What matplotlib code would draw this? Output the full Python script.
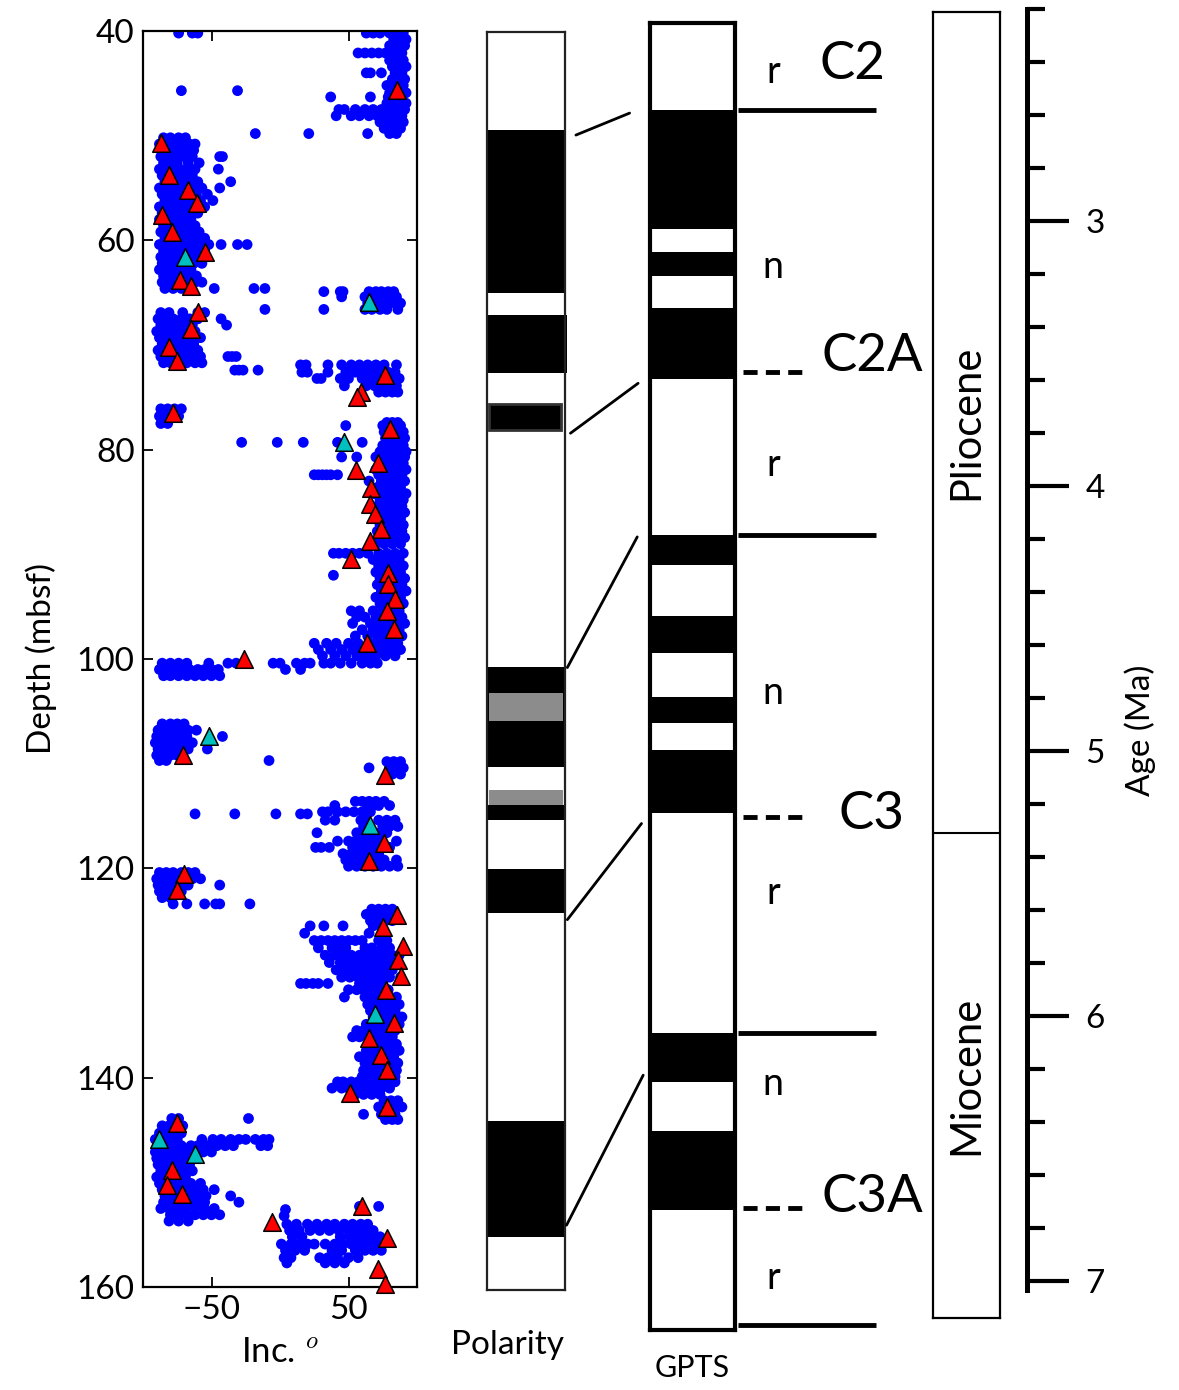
import matplotlib.pyplot as plt
from matplotlib.patches import ConnectionPatch
from matplotlib.ticker import MultipleLocator

plt.rcParams['font.family'] = ['Lato', 'DejaVu Sans']
plt.rcParams['mathtext.fontset'] = 'cm'

# ---- inclination data: (depth in mbsf, [inclinations]) ----
blue_rows = [
    (40.2, [63, 68, 73, 80, 85, 90, -74, -64, -60]),
    (40.8, [83, 88, 92]),
    (41.4, [80, 86, 91]),
    (42.1, [57, 62, 67, 72, 77, 83, 89]),
    (42.8, [80, 85, 90]),
    (43.4, [82, 88, 92]),
    (44.0, [63, 66, 74, 84, 89]),
    (44.6, [82, 87, 91]),
    (45.2, [78, 84, 90]),
    (45.7, [-72, -31]),
    (45.9, [80, 86, 92]),
    (46.3, [37, 66, 79, 85]),
    (46.9, [78, 83, 88, 92]),
    (47.5, [43, 47, 55, 62, 68, 74, 80, 86, 91]),
    (48.1, [41, 52, 58, 65, 71, 77, 83, 89]),
    (48.7, [73, 79, 85, 90]),
    (49.3, [76, 82, 88]),
    (49.8, [-18, 21, 64, 80, 85]),
    (50.2, [-85, -80, -74, -69]),
    (50.8, [-88, -83, -77, -72, -66, -62]),
    (51.4, [-84, -79, -74, -68, -63]),
    (52.0, [-87, -81, -76, -70, -64, -42, -44]),
    (52.6, [-85, -80, -75, -67, -59]),
    (53.2, [-88, -83, -78, -73, -68, -62, -45]),
    (53.8, [-86, -80, -75, -70, -64]),
    (54.4, [-84, -79, -73, -66, -60, -36]),
    (55.0, [-88, -83, -77, -70, -63, -57, -44]),
    (55.6, [-86, -80, -74, -68, -61, -53]),
    (56.2, [-84, -78, -72, -65, -58, -49]),
    (56.8, [-88, -82, -76, -70, -63, -55]),
    (57.4, [-86, -80, -74, -67, -60]),
    (58.0, [-88, -83, -77, -71, -65]),
    (58.6, [-85, -80, -74, -68, -62]),
    (59.2, [-87, -82, -77, -71, -65, -59]),
    (59.8, [-84, -79, -73, -67, -61, -55]),
    (60.4, [-88, -82, -76, -70, -64, -58, -52, -43, -31, -24]),
    (61.0, [-85, -80, -74, -67, -61, -55]),
    (61.6, [-87, -82, -77, -72, -65, -59]),
    (62.2, [-86, -80, -75, -69, -63, -57]),
    (62.8, [-88, -83, -77, -71, -65]),
    (63.4, [-85, -79, -73, -67, -61]),
    (64.0, [-86, -81, -75, -69, -62, -57]),
    (64.6, [-84, -78, -72, -48, -19, -11]),
    (64.9, [32, 44, 46, 65, 70, 74, 79, 83]),
    (65.4, [45, 62, 67, 72, 77, 81, 85]),
    (66.0, [64, 70, 76, 80, 84, 88]),
    (66.6, [-11, 32, 62, 67, 73, 78, 86]),
    (66.9, [-87, -81, -71, -60, -55]),
    (67.5, [-89, -84, -78, -72, -66, -60, -43]),
    (68.1, [-87, -82, -76, -70, -64, -39]),
    (68.7, [-90, -85, -80, -74, -68, -62]),
    (69.3, [-88, -83, -77, -71, -65, -58]),
    (69.9, [-86, -81, -75, -69, -63]),
    (70.5, [-89, -84, -78, -72, -66, -60]),
    (71.1, [-87, -82, -76, -70, -64, -58, -38, -35, -32]),
    (71.7, [-85, -80, -74, -68, -62, -57]),
    (72.4, [-33, -30, -27, -16]),
    (71.9, [15, 19, 35, 45, 52, 58, 64, 70, 76, 85]),
    (72.6, [16, 20, 35, 48, 55, 62, 68, 73, 79, 84]),
    (73.2, [27, 30, 44, 50, 60, 66, 72, 78, 83, 87]),
    (73.9, [47, 63, 69, 75, 80, 85]),
    (74.5, [72, 77, 82, 86]),
    (76.1, [-87, -82, -77, -72]),
    (76.8, [-88, -83, -78, -74]),
    (77.5, [-87, -82]),
    (77.4, [78, 82, 86]),
    (77.7, [48, 75, 80, 84, 88]),
    (78.3, [76, 81, 86, 90]),
    (78.9, [77, 82, 87, 91]),
    (79.3, [-28, -2, 17, 42, 60]),
    (79.6, [75, 80, 85, 90]),
    (80.2, [73, 78, 83, 88, 92]),
    (80.7, [45, 56, 70, 76, 82, 87, 91]),
    (81.3, [74, 80, 85, 90]),
    (81.9, [70, 77, 83, 88, 92]),
    (82.4, [25, 28, 31, 34, 37, 42, 72, 78, 84, 89]),
    (83.0, [65, 74, 80, 86, 91]),
    (83.6, [71, 77, 83, 88]),
    (84.2, [69, 75, 81, 87, 92]),
    (84.8, [73, 79, 85, 90]),
    (85.4, [71, 77, 83, 89]),
    (86.0, [74, 80, 86, 91]),
    (86.6, [70, 76, 82, 88]),
    (87.2, [73, 79, 85, 90]),
    (87.8, [71, 77, 83, 89]),
    (88.4, [75, 81, 86, 91]),
    (89.0, [70, 76, 82, 88]),
    (89.9, [39, 43, 48, 53, 58, 64, 72, 78, 84, 90]),
    (90.5, [68, 75, 81, 87]),
    (91.1, [72, 78, 84, 90]),
    (91.7, [70, 76, 82, 88]),
    (92.0, [39]),
    (92.3, [73, 79, 85, 91]),
    (92.9, [71, 77, 83, 89]),
    (93.5, [74, 80, 86, 92]),
    (94.1, [70, 76, 82, 88]),
    (94.7, [73, 79, 85, 90]),
    (95.4, [52, 58, 68, 75, 81, 87]),
    (96.0, [56, 62, 70, 77, 83, 89]),
    (96.6, [53, 66, 73, 79, 85, 91]),
    (97.2, [60, 68, 75, 81, 87]),
    (97.8, [55, 64, 71, 77, 83, 89]),
    (98.5, [25, 34, 41, 50, 57, 66, 73, 80, 86]),
    (99.1, [28, 37, 45, 53, 60, 68, 75, 82, 88]),
    (99.7, [31, 40, 48, 56, 63, 70, 77, 84]),
    (100.4, [-86, -80, -74, -68, -52, -38, -32, -27, -5, 0, 12, 18, 22,
             32, 37, 44, 52, 60, 66, 71]),
    (101.0, [-88, -83, -77, -72, -66, -60, -55, -50, -45, 4, 15]),
    (101.6, [-85, -80, -74, -68, -62, -56, -50, -44]),
    (106.2, [-86, -80, -75, -70]),
    (106.8, [-89, -84, -78, -73, -67, -61]),
    (107.4, [-90, -85, -80, -74, -68, -42]),
    (108.0, [-91, -86, -81, -76, -70, -64]),
    (108.6, [-89, -84, -78, -73, -67, -53]),
    (109.2, [-90, -85, -80, -75]),
    (109.7, [-88, -83, -8]),
    (109.8, [78, 83, 88]),
    (110.4, [65, 80, 85, 90]),
    (111.0, [82, 88]),
    (113.6, [55, 60, 65, 70, 76]),
    (114.0, [40, 64, 68, 72, 80]),
    (114.6, [31, 35, 42, 48, 54, 60, 66]),
    (114.8, [-62, -33, -3, 15, 20]),
    (115.4, [33, 40, 59, 63, 72, 78, 84]),
    (116.0, [61, 75, 80, 86]),
    (116.6, [27, 56, 62, 67, 73, 78]),
    (117.4, [42, 50, 55, 60, 64, 69, 74, 85]),
    (118.0, [26, 30, 36, 53, 58, 63, 70, 80]),
    (118.6, [46, 52, 57, 62, 67, 72]),
    (119.2, [48, 54, 59, 64, 70, 76, 85]),
    (119.8, [50, 56, 62, 68, 74, 80, 86]),
    (120.4, [-88, -83, -78, -72, -67, -62]),
    (121.0, [-90, -85, -80, -75, -70, -64, -58]),
    (121.6, [-89, -84, -78, -73, -67, -44]),
    (122.2, [-88, -83, -77, -72]),
    (122.8, [-86, -80]),
    (123.4, [-78, -68, -55, -47, -44, -22]),
    (123.9, [67, 72, 77, 82]),
    (124.4, [63, 69, 74, 79, 84]),
    (125.0, [66, 71, 77, 82]),
    (125.5, [22, 32, 46, 68, 74]),
    (126.2, [18, 65]),
    (126.9, [25, 30, 35, 40, 45, 50, 55, 60, 72, 78]),
    (127.6, [28, 38, 43, 48, 62, 67, 74, 80]),
    (128.3, [33, 40, 46, 52, 58, 64, 70, 76, 82, 87]),
    (129.0, [36, 44, 50, 56, 61, 66, 72, 78, 84]),
    (129.7, [41, 47, 53, 59, 64, 70, 76, 82]),
    (130.4, [45, 51, 57, 63, 68, 74, 80, 88]),
    (131.0, [15, 19, 24, 28, 35, 58, 63, 69, 75]),
    (131.6, [50, 56, 61, 67, 73, 79]),
    (132.3, [47, 62, 68, 74, 80, 85]),
    (133.0, [64, 70, 76, 82, 87]),
    (133.6, [66, 72, 78, 84]),
    (134.2, [68, 74, 80, 85, 89]),
    (134.9, [63, 70, 76, 82, 87]),
    (135.5, [56, 61, 66, 72, 78, 84]),
    (136.1, [53, 58, 64, 70, 76, 82]),
    (136.8, [67, 73, 79, 85]),
    (137.4, [63, 69, 75, 81, 87]),
    (138.0, [58, 65, 71, 77, 83]),
    (138.6, [62, 68, 74, 80, 86]),
    (139.3, [61, 67, 73, 79, 85]),
    (139.9, [60, 66, 72, 78, 84]),
    (140.4, [42, 46, 52, 57, 62, 67, 73, 78, 84]),
    (141.0, [38, 45, 50, 56, 62, 68, 74, 80]),
    (141.6, [55, 61, 67, 73]),
    (142.2, [76, 81, 86]),
    (142.8, [72, 80, 85, 89]),
    (143.5, [61, 74, 79, 84]),
    (144.0, [77, 82, 86]),
    (143.9, [-79, -74, -23]),
    (144.6, [-86, -81, -77, -71]),
    (145.3, [-88, -83, -78, -72]),
    (145.9, [-91, -86, -80, -75, -57, -49, -43, -36, -30, -25, -18, -12, -8]),
    (146.5, [-89, -84, -78, -72, -65, -60, -53, -46, -40, -34, -14, -9]),
    (147.1, [-91, -86, -80, -74, -68, -56, -50]),
    (147.7, [-90, -85, -79, -73, -68]),
    (148.3, [-89, -84, -78, -72, -66]),
    (148.9, [-87, -82, -76, -70, -64]),
    (149.5, [-90, -86, -80, -74, -69]),
    (150.1, [-88, -83, -77, -71, -65, -58]),
    (150.7, [-86, -81, -75, -69, -63, -56, -48]),
    (151.3, [-84, -78, -72, -66, -60, -54, -36]),
    (151.9, [-85, -79, -73, -67, -61, -55, -30]),
    (152.5, [-87, -81, -75, -69, -62, -55, -48]),
    (153.1, [-80, -74, -68, -62, -56, -50, -44]),
    (153.7, [-81, -74, -67]),
    (152.3, [58, 72]),
    (152.6, [4]),
    (153.2, [3]),
    (154.0, [5, 12, 20, 27, 34, 40, 47, 53, 59, 64]),
    (154.6, [7, 14, 22, 29, 36, 43, 50, 57, 62, 68]),
    (155.2, [9, 16, 44, 51, 56, 62, 66, 73]),
    (155.9, [1, 8, 14, 20, 25, 33, 40, 46, 52, 58, 64, 70]),
    (156.5, [4, 11, 18, 38, 45, 55, 62, 68, 74]),
    (157.2, [3, 8, 29, 35, 42, 50, 57]),
    (157.7, [5, 33, 40, 47]),
]

red_inc = [85.5, -86.7, -81, -67, -60.4, -86, -79, -54.4, -73, -65, -60, -65,
           -80.7, -75, 76.3, 59.3, 56, -78, 80, 71.7, 55.8, 66.5, 66, 69, 74,
           66, 51.5, 79, 79, 83.6, 78, 83, 63.6, -26, -71, 77, 76, 65, -70.4,
           -75, 85.5, 75.5, 90, 85.8, 88, 77.5, 82.9, 65.3, 73.8, 78, 51.2, 78,
           -75, -78.6, -82.8, -71.5, -5.5, 60, 78, 71.6, 76.5]
red_depth = [45.6, 50.7, 53.8, 55.2, 56.4, 57.6, 59.2, 61.1, 63.8, 64.4, 66.8,
             68.5, 70.2, 71.5, 72.9, 74.5, 75.0, 76.5, 78.0, 81.3, 81.9, 83.7,
             85.2, 86.1, 87.6, 88.7, 90.4, 91.8, 92.8, 94.3, 95.4, 97.1, 98.5,
             100.0, 109.2, 111.1, 117.6, 119.3, 120.5, 122.1, 124.5, 125.6,
             127.4, 128.8, 130.3, 131.6, 134.8, 136.2, 137.8, 139.3, 141.5,
             142.8, 144.3, 148.8, 150.3, 151.1, 153.8, 152.3, 155.3, 158.3,
             159.7]
cyan_inc = [-69.7, 65.3, 47, -51.5, 66, 69.7, -88, -61.7]
cyan_depth = [61.6, 65.9, 79.3, 107.4, 115.9, 133.9, 145.9, 147.3]

# ---- polarity column (depth intervals) ----
pol_black = [(49.4, 65.0), (100.75, 110.3), (113.9, 115.4), (120.1, 124.3),
             (144.1, 155.2)]
pol_black_wide = [(67.1, 72.6)]
pol_dark = [(75.6, 78.1)]
pol_gray = [(103.2, 105.9), (112.5, 113.9)]

# ---- GPTS (Ma) ----
gpts_normal = [(2.581, 3.032), (3.116, 3.207), (3.330, 3.596), (4.187, 4.300),
               (4.493, 4.631), (4.799, 4.896), (4.997, 5.235), (6.066, 6.252),
               (6.436, 6.733)]
chron_solid = [2.581, 4.187, 6.066, 7.168]
chron_dashed = [3.57, 5.25, 6.725]
chron_names = ['C2', 'C2A', 'C3', 'C3A']
chron_name_age = [2.411, 3.513, 5.242, 6.688]
chron_name_x = [2.38, 2.62, 2.61, 2.62]
pol_letters = ['r', 'n', 'r', 'n', 'r', 'n', 'r']
pol_letter_age = [2.438, 3.174, 3.921, 4.782, 5.537, 6.26, 6.99]

# tie lines: depth in the core -> age in the GPTS
tie_depth = [49.9, 78.4, 100.8, 124.9, 154.1]
tie_age = [2.593, 3.613, 4.193, 5.275, 6.225]
tie_x_left = [1.14, 1.07, 1.03, 1.03, 1.02]
tie_x_right = [-0.24, -0.14, -0.15, -0.10, -0.08]

epochs = ['Pliocene', 'Miocene']
epoch_bounds = [2.211, 5.31, 7.141]

W, H = 1179, 1390


def box(x0, y0, x1, y1):
    return [x0 / W, 1 - y1 / H, (x1 - x0) / W, (y1 - y0) / H]


fig = plt.figure(figsize=(W / 100, H / 100), dpi=100)

# inclination vs depth
inc, depth = [], []
for d, vals in blue_rows:
    for v in vals:
        inc.append(v)
        depth.append(d)

ax = fig.add_axes(box(143, 31, 417, 1287))
ax.scatter(inc, depth, s=60, c='#0000ff', edgecolors='none', zorder=2)
ax.scatter(red_inc, red_depth, marker='^', s=160, c='#ff0000',
           edgecolors='k', linewidths=1.1, zorder=3, clip_on=False)
ax.scatter(cyan_inc, cyan_depth, marker='^', s=160, c='#00bfbf',
           edgecolors='k', linewidths=1.1, zorder=3, clip_on=False)
ax.set_xlim(-100, 100)
ax.set_ylim(160, 40)
ax.set_xticks([-50, 50])
ax.set_yticks(range(40, 161, 20))
ax.tick_params(direction='in', top=True, right=True, length=7, width=1.3,
               labelsize=24, pad=6)
for s in ax.spines.values():
    s.set_linewidth(1.6)
ax.set_xlabel('Inc. $^o$', fontsize=25, labelpad=8)
ax.set_ylabel('Depth (mbsf)', fontsize=24, labelpad=14)

# polarity column
axp = fig.add_axes(box(487, 31.5, 565, 1290))
axp.set_xlim(0, 1)
axp.set_ylim(160.3, 40)
for top, bot in pol_black:
    axp.axhspan(top, bot, color='k', lw=0)
for top, bot in pol_black_wide:
    axp.axhspan(top, bot, xmax=1.03, color='k', lw=0, clip_on=False)
for top, bot in pol_dark:
    axp.axhspan(top, bot, xmin=0.03, xmax=0.95, fc='k', ec='#333333', lw=2)
for top, bot in pol_gray:
    axp.axhspan(top, bot, xmin=0.02, xmax=0.97, color='#8c8c8c', lw=0)
axp.set_xticks([])
axp.set_yticks([])
for s in axp.spines.values():
    s.set_linewidth(1.6)
    s.set_color('#222222')
fig.text(508 / W, 1 - 1345 / H, 'Polarity', fontsize=24,
         ha='center', va='center')

# GPTS column
axg = fig.add_axes(box(650, 23.3, 735, 1330))
axg.set_xlim(0, 1)
axg.set_ylim(7.187, 2.254)
for top, bot in gpts_normal:
    axg.axhspan(top, bot, color='k', lw=0)
axg.set_xticks([])
axg.set_yticks([])
for s in axg.spines.values():
    s.set_linewidth(3)
fig.text(692 / W, 1 - 1368 / H, 'GPTS', fontsize=22, ha='center', va='center')

tr = axg.get_yaxis_transform()
for a in chron_solid:
    axg.plot([1.035, 2.66], [a, a], color='k', lw=3.5, transform=tr,
             clip_on=False, solid_capstyle='butt')
for a in chron_dashed:
    axg.plot([1.094, 1.83], [a, a], color='k', lw=3.5, transform=tr,
             clip_on=False, linestyle=(0, (2.9, 1.7)))
for name, a, x in zip(chron_names, chron_name_age, chron_name_x):
    axg.text(x, a, name, transform=tr, fontsize=38, ha='center', va='center')
for lab, a in zip(pol_letters, pol_letter_age):
    axg.text(1.45, a, lab, transform=tr, fontsize=27, ha='center',
             va='center')

# tie lines between the core polarity and the GPTS
for d, a, xl, xr in zip(tie_depth, tie_age, tie_x_left, tie_x_right):
    con = ConnectionPatch(xyA=(xl, d), coordsA=axp.get_yaxis_transform(),
                          xyB=(xr, a), coordsB=axg.get_yaxis_transform(),
                          color='k', lw=2)
    fig.add_artist(con)

# epochs
axe = fig.add_axes(box(933, 12, 1000, 1318))
axe.set_xlim(0, 1)
axe.set_ylim(epoch_bounds[-1], epoch_bounds[0])
axe.axhline(epoch_bounds[1], color='k', lw=1.5)
for i, name in enumerate(epochs):
    mid = (epoch_bounds[i] + epoch_bounds[i + 1]) / 2
    axe.text(0.5, mid, name, rotation=90, fontsize=30, ha='center',
             va='center')
axe.set_xticks([])
axe.set_yticks([])
for s in axe.spines.values():
    s.set_linewidth(1.6)

# age scale (same vertical scale as the GPTS column)
axa = fig.add_axes(box(1015, 3.8, 1027, 1307))
axa.set_ylim(7.1, 2.18)
axa.patch.set_visible(False)
for side in ['left', 'top', 'bottom']:
    axa.spines[side].set_visible(False)
axa.spines['right'].set_linewidth(3.6)
axa.spines['right'].set_bounds(2.2, 7.035)
axa.set_xticks([])
axa.yaxis.tick_right()
axa.set_yticks([3, 4, 5, 6, 7])
axa.yaxis.set_minor_locator(MultipleLocator(0.2))
axa.tick_params(axis='y', which='major', direction='out', length=30,
                width=3, labelsize=24, pad=12)
axa.tick_params(axis='y', which='minor', direction='out', length=13,
                width=3)
fig.text(1140 / W, 1 - 730 / H, 'Age (Ma)', rotation=90, fontsize=24,
         ha='center', va='center')

fig.savefig('out.png', dpi=100)
